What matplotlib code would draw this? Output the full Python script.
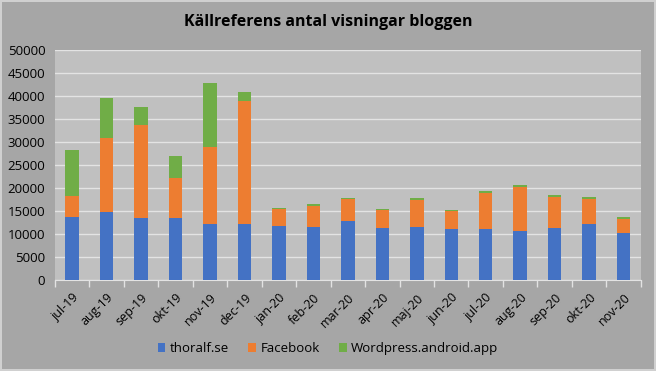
import matplotlib
matplotlib.use("Agg")
import matplotlib.pyplot as plt
import numpy as np

months = ["jul-19", "aug-19", "sep-19", "okt-19", "nov-19", "dec-19",
          "jan-20", "feb-20", "mar-20", "apr-20", "maj-20", "jun-20",
          "jul-20", "aug-20", "sep-20", "okt-20", "nov-20"]
thoralf = [13600, 14800, 13500, 13500, 12200, 12200,
           11750, 11550, 12900, 11400, 11600, 11150,
           11150, 10750, 11400, 12250, 10250]
facebook = [4700, 16150, 20200, 8750, 16700, 26800,
            3700, 4550, 4700, 3900, 5850, 3850,
            7750, 9400, 6650, 5350, 3000]
wordpress = [9950, 8600, 3900, 4700, 14000, 1900,
             200, 500, 300, 200, 450, 300,
             500, 600, 500, 500, 500]

plt.rcParams['font.family'] = ['Open Sans', 'DejaVu Sans']

fig = plt.figure(figsize=(6.56, 3.71), dpi=100)
fig.patch.set_facecolor("#a6a6a6")
fig.patch.set_edgecolor("#d0d0d0")
fig.patch.set_linewidth(1.5)

ax = fig.add_axes([0.0838, 0.2453, 0.893, 0.62])
ax.set_facecolor("#c0c0c0")

x = np.arange(len(months))
bottom2 = np.array(thoralf) + np.array(facebook)
ax.bar(x, thoralf, width=0.39, color="#4472c4", label="thoralf.se", zorder=3)
ax.bar(x, facebook, width=0.39, bottom=thoralf, color="#ed7d31", label="Facebook", zorder=3)
ax.bar(x, wordpress, width=0.39, bottom=bottom2, color="#70ad47", label="Wordpress.android.app", zorder=3)

ax.set_xlim(-0.5, len(months) - 0.5)
ax.set_ylim(0, 50000)
ax.set_yticks(np.arange(0, 50001, 5000))
ax.yaxis.grid(True, color="#e3e3e3", linewidth=1, zorder=0)
ax.tick_params(axis="y", length=0, labelsize=9.5, pad=7, colors="black")
ax.set_xticks(x)
ax.set_xticklabels(months, rotation=45, ha="right", rotation_mode="anchor", fontsize=9)
ax.set_xticks(np.arange(-0.5, len(months), 1), minor=True)
ax.tick_params(axis="x", which="major", length=0, pad=8)
ax.tick_params(axis="x", which="minor", length=5, color="#e3e3e3", width=1)
for s in ["left", "right", "top"]:
    ax.spines[s].set_visible(False)
ax.spines["bottom"].set_color("#e3e3e3")

fig.text(0.5, 0.94, "Källreferens antal visningar bloggen", ha="center", va="center",
         fontsize=11.5, fontweight="bold")

fig.legend(loc="center", bbox_to_anchor=(0.5, 0.06), ncol=3, frameon=False,
           fontsize=9.5, handlelength=0.6, handleheight=0.6, handletextpad=0.3,
           columnspacing=1.5)

fig.savefig("out.png", dpi=100, facecolor=fig.get_facecolor(), edgecolor=fig.get_edgecolor())
